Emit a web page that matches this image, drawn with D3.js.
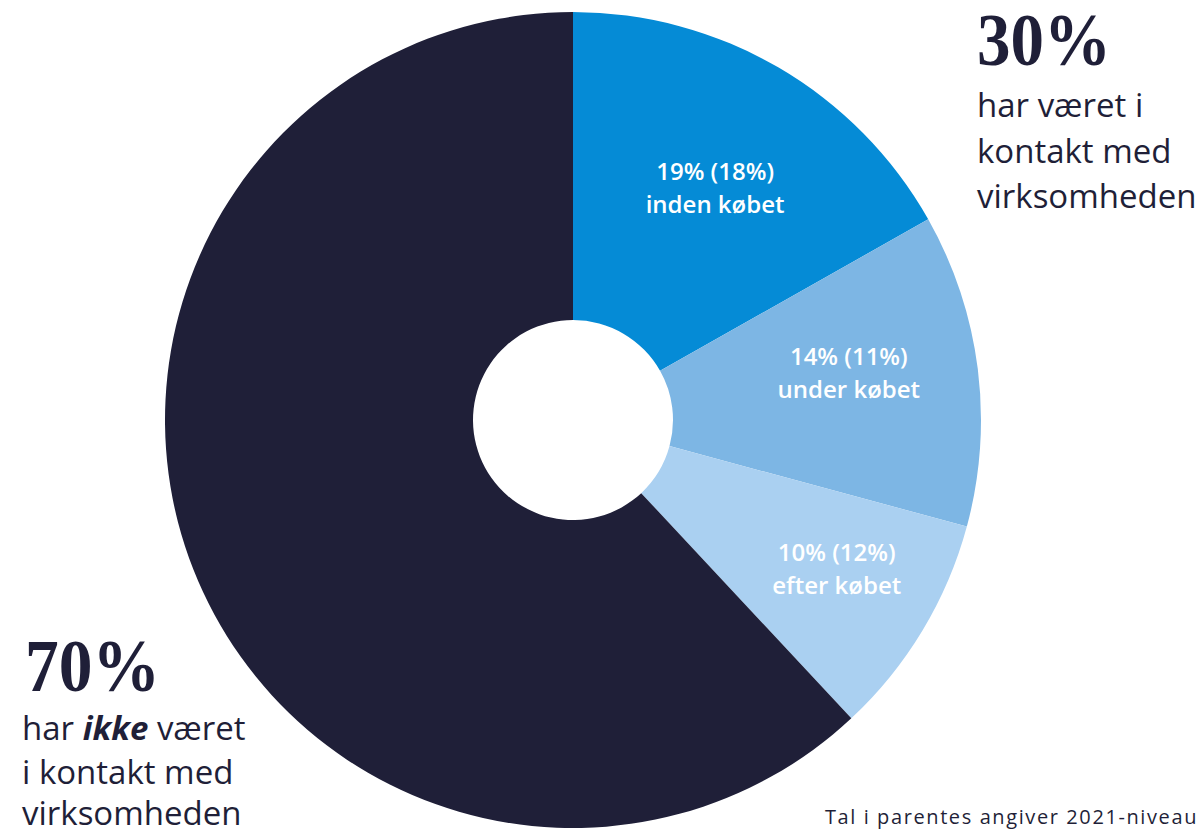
<!DOCTYPE html>
<html><head><meta charset="utf-8">
<script src="https://cdn.jsdelivr.net/npm/d3@7"></script>
<style>body{margin:0;background:#fff}</style>
</head><body>
<svg id="c" width="1204" height="835"></svg>
<script>
const categories = ["inden købet","under købet","efter købet","ikke i kontakt"];
const values = [19, 14, 10, 70];
const prevValues = [18, 11, 12, null];
const colors = ["#058BD6","#7DB6E4","#AAD0F1","#1F1F38"];
const navy = "#1F1F38";

const svg = d3.select("#c");
const cx = 573, cy = 420, R = 408, r0 = 100;
const g = svg.append("g").attr("transform",`translate(${cx},${cy})`);
const pie = d3.pie().sort(null).value(d=>d.v);
const data = pie(values.map((v,i)=>({v,i})));
const arc = d3.arc().innerRadius(r0).outerRadius(R);
g.selectAll("path").data(data).join("path").attr("d",arc).attr("fill",d=>colors[d.data.i]);

// label placement: radius along mid-angle plus small nudges (layout only)
const labelR = [272, 282, 302];
const nudge = [[5,0],[-4,-15],[5,-10]];
const sans = "'Open Sans', sans-serif";
const serif = "'Liberation Serif', serif";
const lab = g.selectAll("text.l").data(data.slice(0,3)).join("text")
  .attr("class","l")
  .attr("transform",d=>{const a=(d.startAngle+d.endAngle)/2, i=d.data.i, rr=labelR[i];
     return `translate(${Math.sin(a)*rr+nudge[i][0]},${-Math.cos(a)*rr+nudge[i][1]})`;})
  .attr("text-anchor","middle").attr("fill","#fff")
  .style("font-family",sans).style("font-weight","600").style("font-size","24px");
lab.append("tspan").attr("x",0).attr("y",-5).text(d=>`${d.data.v}% (${prevValues[d.data.i]}%)`);
lab.append("tspan").attr("x",0).attr("y",28).text(d=>categories[d.data.i]);

// right label
svg.append("text").attr("x",977).attr("y",65).attr("fill",navy).attr("textLength",134).attr("lengthAdjust","spacingAndGlyphs")
  .style("font-family",serif).style("font-weight","bold").style("font-size","74px").text("30%");
["har været i","kontakt med","virksomheden"].forEach((t,i)=>{
  svg.append("text").attr("x",977).attr("y",117+i*45.5).attr("fill",navy)
   .style("font-family",sans).style("font-size","33px").text(t);
});
// left label
svg.append("text").attr("x",25).attr("y",691).attr("fill",navy).attr("textLength",135).attr("lengthAdjust","spacingAndGlyphs")
  .style("font-family",serif).style("font-weight","bold").style("font-size","74px").text("70%");
const l1 = svg.append("text").attr("x",22).attr("y",740).attr("fill",navy)
  .style("font-family",sans).style("font-size","33px");
l1.append("tspan").text("har ");
l1.append("tspan").style("font-weight","bold").style("font-style","italic").text("ikke");
l1.append("tspan").text(" været");
["i kontakt med","virksomheden"].forEach((t,i)=>{
  svg.append("text").attr("x",22).attr("y",784+i*41).attr("fill",navy)
   .style("font-family",sans).style("font-size","33px").text(t);
});
svg.append("text").attr("x",1198).attr("y",824).attr("text-anchor","end").attr("fill",navy)
  .style("font-family",sans).style("font-size","20px").style("letter-spacing","1.6px").text("Tal i parentes angiver 2021-niveau");
</script>
</body></html>
